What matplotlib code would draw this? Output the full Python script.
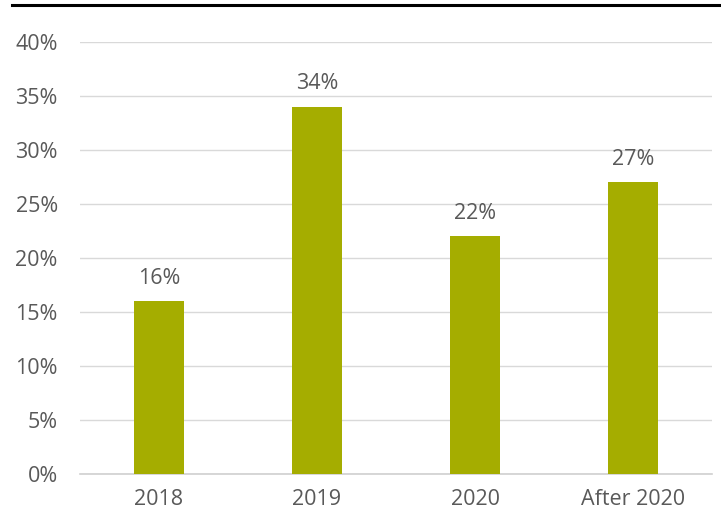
import numpy as np
import matplotlib.pyplot as plt
from matplotlib.lines import Line2D
from matplotlib.ticker import FuncFormatter

plt.rcParams['font.family'] = ['Open Sans', 'DejaVu Sans']

categories = ["2018", "2019", "2020", "After 2020"]
shares = [16, 34, 22, 27]

W, H = 721, 532
fig = plt.figure(figsize=(W / 100, H / 100), dpi=100)
ax = fig.add_axes([80 / W, 1 - 474 / H, (712 - 80) / W, (474 - 42) / H])

x = np.arange(len(categories))
ax.bar(x, shares, width=0.316, color="#a5ad00", zorder=3)

for xi, v in zip(x, shares):
    ax.annotate(f"{v}%", (xi, v), xytext=(0, 9), textcoords="offset points",
                ha="center", va="bottom", fontsize=15.5, color="#595959")

ax.set_xlim(-0.5, len(categories) - 0.5)
ax.set_ylim(0, 40)
ax.set_yticks(range(0, 41, 5))
ax.yaxis.set_major_formatter(FuncFormatter(lambda v, p: f"{v:.0f}%"))
ax.set_xticks(x)
ax.set_xticklabels(categories)

ax.grid(axis="y", color="#d9d9d9", linewidth=1, zorder=0)
for s in ["top", "right", "left"]:
    ax.spines[s].set_visible(False)
ax.spines["bottom"].set_color("#d0d0d0")
ax.spines["bottom"].set_linewidth(1.2)
ax.tick_params(length=0, labelsize=15.5, colors="#595959")
ax.tick_params(axis="y", pad=16)
ax.tick_params(axis="x", pad=11)

# heavy rule along the top edge
fig.add_artist(Line2D([12 / W, 1], [1 - 5 / H, 1 - 5 / H], color="black", linewidth=2.2))

fig.savefig("out.png", dpi=100)
